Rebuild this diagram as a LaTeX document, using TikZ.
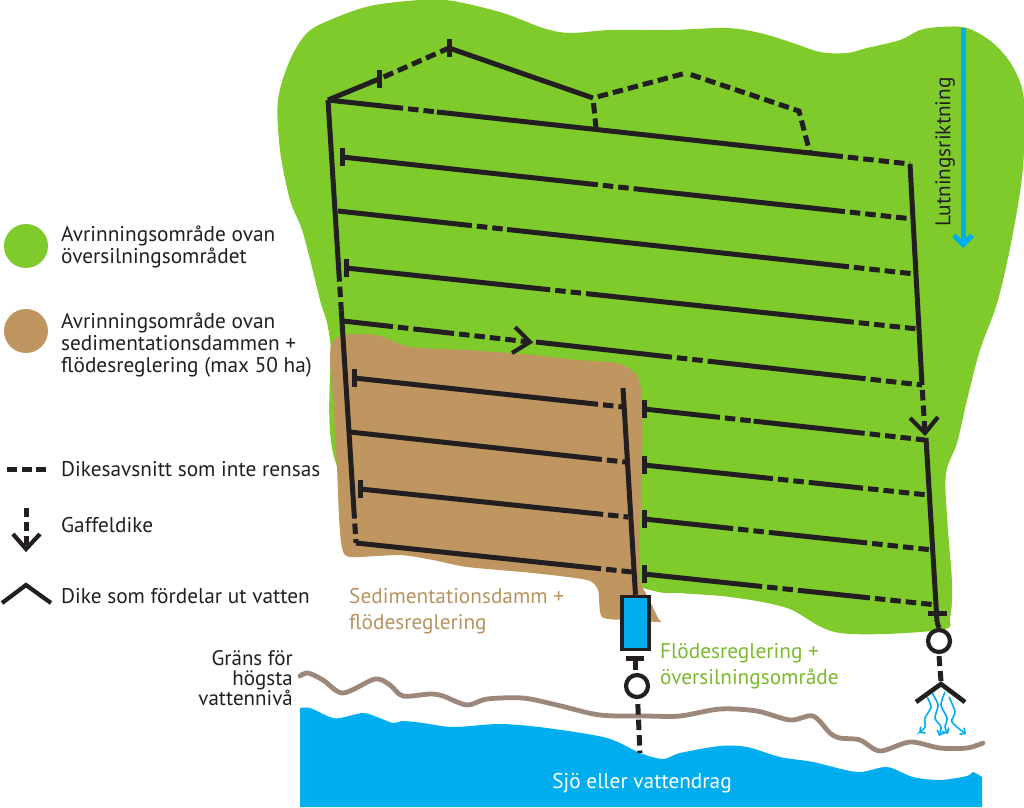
\documentclass[tikz,border=0pt]{standalone}
\usepackage{fontspec}
\setmainfont{PT Sans}
\usepackage{xcolor}
\usepackage{tikz}
\usetikzlibrary{arrows.meta,calc,positioning}

\definecolor{areagreen}{HTML}{7FCB2B}
\definecolor{areabrown}{HTML}{BF9560}
\definecolor{waterblue}{HTML}{00AEEF}
\definecolor{dikeblack}{HTML}{231F20}
\definecolor{shoreline}{HTML}{9C877B}
\definecolor{labelbrown}{HTML}{B8935F}
\definecolor{labelgreen}{HTML}{7AB92C}

% solid ditch that ends in an uncleared stretch
\newcommand{\dikeend}[3]{%
  \draw[dike] (#1) -- ($(#1)!#3!(#2)$);
  \draw[dike,rensas] ($(#1)!#3!(#2)$) -- (#2);}
% solid, short uncleared stretch, solid, uncleared end
\newcommand{\dikemid}[5]{%
  \draw[dike] (#1) -- ($(#1)!#3!(#2)$);
  \draw[dike,rensas] ($(#1)!#3!(#2)$) -- ($(#1)!#4!(#2)$);
  \dikeend{$(#1)!#4!(#2)$}{#2}{#5}}
% short vertical stop bar at a ditch start
\newcommand{\dikebar}[1]{\draw[dike] ($(#1)+(0,-9)$) -- ($(#1)+(0,9)$);}

\begin{document}
\begin{tikzpicture}[x=1pt,y=-1pt,>=Latex,
    dike/.style={draw=dikeblack,line width=5pt},
    rensas/.style={dash pattern=on 10.5pt off 5pt,dash phase=10.5pt},
    gaffel/.style={draw=dikeblack,line width=4.2pt},
    brunn/.style={circle,draw=dikeblack,line width=4.2pt,minimum size=22pt,inner sep=0pt},
    txt/.style={font=\fontsize{21.3}{22}\selectfont,text=dikeblack,align=left,anchor=west,inner sep=0pt},
    flow/.style={draw=waterblue,line width=1.6pt,-{Straight Barb[length=4pt,width=8pt]}}]

  \useasboundingbox (0,0) rectangle (1024,807);

  % Green = catchment
  \fill[areagreen] plot[smooth cycle,tension=0.55] coordinates {
    (278,100) (290,60) (307,33) (330,20) (370,6) (420,0) (453,1) (503,13) (543,28) (570,33)
    (610,30) (670,30) (727,28) (760,33) (793,43) (820,52) (847,53) (867,48) (900,40) (920,30)
    (940,27) (967,28) (993,43) (1013,67) (1024,100) (1023,167) (1013,233) (998,300) (980,350)
    (967,400) (957,443) (946,473) (947,517) (952,583) (950,617) (940,630) (840,633) (787,608)
    (730,597) (680,593) (643,588) (500,540) (345,480) (330,340) (320,300) (303,233) (290,200) (280,150)};

  % Brown = sedimentation catchment
  \fill[areabrown] plot[smooth cycle,tension=0.4] coordinates {
    (332,343) (343,335) (377,335) (410,347) (467,350) (533,355) (577,360) (617,363) (637,375)
    (642,400) (642,467) (640,533) (640,580) (648,597) (658,618) (660,622) (630,620) (602,617)
    (598,590) (587,580) (533,573) (467,567) (433,560) (400,555) (350,557) (342,548) (339,517)
    (337,467) (333,400) (330,360)};

  % Water and the high water line
  \fill[waterblue] (300,807) -- (300,708) -- plot[smooth,tension=0.5] coordinates {
    (300,708) (310,708) (330,717) (340,718) (363,713) (377,717) (393,723) (403,721) (423,723)
    (453,727) (500,724) (547,728) (607,738) (640,753) (663,759) (680,753) (720,746) (747,747)
    (780,757) (813,762) (857,772) (887,767) (913,777) (940,780) (967,776) (973,772) (982,777)}
    -- (982,807) -- cycle;
  \draw[shoreline,line width=4.8pt,line cap=round] plot[smooth,tension=0.5] coordinates {
    (300,676) (308,673) (323,680) (343,693) (375,679) (390,685) (403,696) (430,694) (443,696)
    (467,705) (487,699) (523,698) (557,705) (600,715) (647,716) (680,716) (720,709) (757,711)
    (790,720) (813,716) (830,733) (840,738) (860,740) (880,751) (910,742) (940,748) (967,748) (983,743)};

  % Slope arrow
  \coordinate (lutA) at (963,28);
  \coordinate (lutB) at (963,248);
  \draw[waterblue,line width=5pt,-{Straight Barb[length=9pt,width=18pt]}] (lutA) -- (lutB);
  \node[txt,rotate=90,anchor=center] (lutText) at (945,152) {Lutningsriktning};

  % Upper boundary ditches
  \coordinate (top) at (328,100);
  \coordinate (peakA) at (379,79);
  \coordinate (peakB) at (449,48);
  \coordinate (peakC) at (593,98);
  \coordinate (peakD) at (686,73);
  \coordinate (peakE) at (799,111);
  \coordinate (juncC) at (596,128);
  \coordinate (juncE) at (810,153);
  \draw[dike] (top) -- (peakA);
  \draw[dike,rensas] (peakA) -- (peakB);
  \draw[dike] (peakB) -- (peakC);
  \draw[dike,rensas] (peakC) -- (juncC);
  \draw[dike,rensas] (peakC) -- (peakD);
  \draw[dike,rensas] (peakD) -- (peakE) -- (juncE);
  \dikebar{peakA}
  \dikebar{peakB}

  % Left main ditch
  \coordinate (leftEnd) at (356,543);
  \dikemid{top}{leftEnd}{0.41}{0.475}{0.895}

  % Right main ditch
  \coordinate (rightA) at (910,164);
  \coordinate (rightB) at (922,385);
  \coordinate (gafTip) at (925,433);
  \coordinate (rightC) at (926,438);
  \coordinate (rightD) at (937,622);
  \coordinate (gafL) at (910,418);
  \coordinate (gafR) at (938,417);
  \draw[dike] (rightA) -- (rightB);
  \draw[dike,rensas] (rightB) -- (gafTip);
  \draw[gaffel] (gafL) -- (gafTip) -- (gafR);
  \draw[dike] (rightC) -- (rightD);
  \draw[dike] (928,613) -- (947,613);

  % Ditches across the green area
  \coordinate (rowA) at (342,157);
  \coordinate (rowAe) at (913,219);
  \coordinate (rowB) at (338,211);
  \coordinate (rowBe) at (915,274);
  \coordinate (rowC) at (346,268);
  \coordinate (rowCe) at (918,329);
  \dikemid{top}{rightA}{0.129}{0.187}{0.858}
  \dikemid{rowA}{rowAe}{0.448}{0.513}{0.755}
  \dikemid{rowB}{rowBe}{0.232}{0.293}{0.838}
  \dikemid{rowC}{rowCe}{0.357}{0.421}{0.806}
  \dikebar{rowA}
  \dikebar{rowC}

  % Ditch with the fork
  \coordinate (rowD) at (343,321);
  \coordinate (forkTip) at (530,342);
  \coordinate (forkL) at (515,327);
  \coordinate (forkR) at (512,353);
  \coordinate (rowE) at (536,342);
  \coordinate (rowEe) at (922,385);
  \dikemid{rowD}{forkTip}{0.267}{0.428}{0.29}
  \draw[gaffel] (forkL) -- (forkTip) -- (forkR);
  \dikemid{rowE}{rowEe}{0.352}{0.446}{0.736}

  % Ditches in the brown area
  \coordinate (brnA) at (354,378);
  \coordinate (brnAe) at (623,407);
  \coordinate (brnB) at (350,432);
  \coordinate (brnBe) at (625,462);
  \coordinate (brnC) at (360,489);
  \coordinate (brnCe) at (628,517);
  \coordinate (brnDe) at (632,572);
  \dikeend{brnA}{brnAe}{0.907}
  \dikeend{brnB}{brnBe}{0.916}
  \dikeend{brnC}{brnCe}{0.907}
  \dikeend{leftEnd}{brnDe}{0.888}
  \dikebar{brnA}
  \dikebar{brnC}

  % Ditches below the fork
  \coordinate (grnA) at (644,409);
  \coordinate (grnAe) at (925,440);
  \coordinate (grnB) at (644,465);
  \coordinate (grnBe) at (928,495);
  \coordinate (grnC) at (644,519);
  \coordinate (grnCe) at (933,550);
  \coordinate (grnD) at (644,574);
  \coordinate (grnDe) at (937,605);
  \dikemid{grnA}{grnAe}{0.27}{0.39}{0.648}
  \dikemid{grnB}{grnBe}{0.454}{0.595}{0.435}
  \dikemid{grnC}{grnCe}{0.308}{0.436}{0.596}
  \dikemid{grnD}{grnDe}{0.403}{0.529}{0.514}
  \dikebar{grnA}
  \dikebar{grnB}
  \dikebar{grnC}
  \dikebar{grnD}

  % Sedimentation pond and its outlet
  \coordinate (pondIn) at (623,388);
  \node[draw=dikeblack,fill=waterblue,line width=3.6pt,minimum width=27pt,minimum height=53pt,inner sep=0pt] (damm) at (635.5,623) {};
  \draw[dike] (pondIn) -- (damm.north);
  \coordinate (stemA) at (635,658);
  \coordinate (stemB) at (635,670);
  \draw[dike] (626,658) -- (644,658);
  \draw[dike] (stemA) -- (stemB);
  \node[brunn] (brunnA) at (637,686) {};
  \coordinate (sjo) at (640,753);
  \draw[dike,rensas] (brunnA) -- (sjo);

  % Well and spreading ditch on the right
  \node[brunn] (brunnB) at (939,641) {};
  \draw[dike] (rightD) -- (brunnB.north);
  \coordinate (ridge) at (941,684);
  \coordinate (ridgeL) at (916,702);
  \coordinate (ridgeR) at (965,702);
  \draw[dike,dash pattern=on 10pt off 5pt] (brunnB.south) ++(0,2) -- ($(ridge)+(0,-3)$);
  \draw[gaffel,line width=4.6pt] (ridgeL) -- (ridge) -- (ridgeR);
  \draw[flow] plot[smooth] coordinates {(927,697) (931,707) (925,718) (925,727) (919,733)};
  \draw[flow] plot[smooth] coordinates {(932,693) (938,705) (935,718) (941,727) (939,736)};
  \draw[flow] plot[smooth] coordinates {(945,692) (941,705) (947,718) (945,727) (948,734)};
  \draw[flow] plot[smooth] coordinates {(949,697) (955,712) (952,722) (966,734)};

  % Labels on the map
  \node[txt,text=labelbrown,font=\fontsize{21.3}{26}\selectfont] (sedText) at (349,611) {Sedimentationsdamm +\\flödesreglering};
  \node[txt,text=labelgreen,font=\fontsize{21.3}{25.5}\selectfont] (flodText) at (660,666) {Flödesreglering +\\översilningsområde};
  \node[txt,align=right,anchor=east,font=\fontsize{21}{20}\selectfont] (gransText) at (293,678.5) {Gräns för\hspace{4pt}\\högsta\hspace{4pt}\\vattennivå};
  \node[txt,text=white,anchor=center] (sjoText) at (642,783) {Sjö eller vattendrag};

  % Legend
  \fill[areagreen] (26,246) circle (22);
  \node[txt] (legA) at (61,246.5) {Avrinningsområde ovan\\översilningsområdet};
  \fill[areabrown] (26,331) circle (22);
  \node[txt] (legB) at (61,345.5) {Avrinningsområde ovan\\sedimentationsdammen +\\flödesreglering (max 50 ha)};
  \coordinate (legDa) at (7,469);
  \coordinate (legDb) at (46,469);
  \draw[dike,dash pattern=on 10pt off 4.5pt] (legDa) -- (legDb);
  \node[txt] (legC) at (61,469) {Dikesavsnitt som inte rensas};
  \coordinate (legGa) at (26,508);
  \coordinate (legGb) at (26,546);
  \draw[dike,dash pattern=on 9pt off 5pt] (legGa) -- (legGb);
  \draw[gaffel] (13,534) -- (26,549) -- (40,534);
  \node[txt] (legE) at (61,525) {Gaffeldike};
  \coordinate (legRa) at (2,603);
  \coordinate (legRb) at (26,585);
  \coordinate (legRc) at (51,603);
  \draw[gaffel] (legRa) -- (legRb) -- (legRc);
  \node[txt] (legF) at (61,596) {Dike som fördelar ut vatten};

\end{tikzpicture}
\end{document}
